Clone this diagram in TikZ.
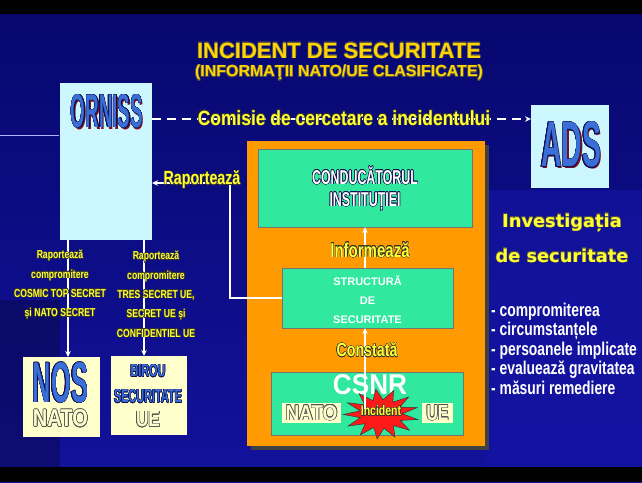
\documentclass[tikz,border=0pt]{standalone}
\usepackage{fontspec}
\setmainfont{Liberation Sans}
\newfontfamily\cond[FakeStretch=0.75]{Liberation Sans}
\newfontfamily\mcond[FakeStretch=0.85]{Liberation Sans}
\newfontfamily\xcond[FakeStretch=0.62]{Liberation Sans}
\newfontfamily\dvs{DejaVu Sans}
\usepackage{contour}
\contourlength{0.5pt}
\usetikzlibrary{shapes.geometric,arrows.meta,shadows}
\definecolor{bgtop}{HTML}{07076E}
\definecolor{bgbot}{HTML}{12129C}
\definecolor{bgright}{HTML}{1515A8}
\definecolor{cyanbox}{HTML}{CCF7FF}
\definecolor{cream}{HTML}{FFFFCC}
\definecolor{mygreen}{HTML}{30E89E}
\definecolor{myorange}{HTML}{FF9A00}
\definecolor{tityel}{HTML}{FFD400}
\definecolor{labyel}{HTML}{FFFF33}
\definecolor{blueT}{HTML}{3A6FD8}
\definecolor{navyT}{HTML}{101050}
\definecolor{shred}{HTML}{7A1020}
\definecolor{starred}{HTML}{FF1A1A}
\definecolor{outgray}{HTML}{555555}
\newcommand\fitbox[3]{\resizebox{#1}{#2}{\bfseries #3}}
\begin{document}
\begin{tikzpicture}[x=1pt,y=-1pt,
  lab/.style={text=labyel, font=\cond\bfseries\fontsize{19}{22}\selectfont, inner sep=0},
  small/.style={text=labyel, font=\cond\bfseries\fontsize{11.5}{19.3}\selectfont, align=center, inner sep=0},
  arr/.style={draw=white, line width=1.4pt, -{Stealth[length=6pt,width=5.5pt]}},
  plain/.style={inner sep=0, outer sep=0},
  gbox/.style={plain, fill=mygreen, draw=black!55, line width=0.6pt},
  whitebold/.style={text=white, font=\bfseries\fontsize{11}{19}\selectfont, align=center, inner sep=0},
  bullet/.style={text=white, font=\cond\bfseries\fontsize{18.5}{20}\selectfont, anchor=base west, inner sep=0},
  inv/.style={text=labyel, font=\dvs\bfseries\fontsize{17.8}{20}\selectfont, anchor=base, inner sep=0},
]
\useasboundingbox (0,0) rectangle (642,482);
% background
\fill[top color=bgtop, bottom color=bgbot] (0,0) rectangle (642,482);
\fill[bgright, opacity=0.6] (486,190) rectangle (642,467);
\fill[black, opacity=0.25] (0,300) rectangle (60,467);
\fill[black] (0,0) rectangle (642,14);
\fill[black] (0,467) rectangle (642,482);
\draw[white!70!blue, line width=1pt] (0,135) -- (59,135);

% title
\node[text=tityel, font=\bfseries\fontsize{22}{24}\selectfont, plain] (title) at (339,51) {\contour{black!70}{INCIDENT DE SECURITATE}};
\node[text=tityel, font=\bfseries\fontsize{16}{18}\selectfont, plain] (subtitle) at (339,73) {\contour{black!70}{(INFORMAŢII NATO/UE CLASIFICATE)}};

% ORNISS
\node[plain, fill=cyanbox, minimum width=92, minimum height=157] (orniss) at (106,161.5) {};
\node[plain, text=shred] (ornissshadow) at (108.5,113) {\fitbox{72pt}{33pt}{ORNISS}};
\node[plain, text=blueT] (ornisslbl) at (107,111.5) {\contourlength{0.4pt}\contour{navyT}{\fitbox{72pt}{33pt}{ORNISS}}};

% ADS
\node[plain, fill=cyanbox, minimum width=78, minimum height=83] (ads) at (570,146.5) {};
\node[plain, text=shred] (adsshadow) at (572.5,146.5) {\fitbox{60pt}{45pt}{ADS}};
\node[plain, text=blueT] (adslbl) at (571,145) {\contourlength{0.4pt}\contour{navyT}{\fitbox{60pt}{45pt}{ADS}}};

% dashed commission arrow
\coordinate (dashy) at (0,119);
\draw[arr, dash pattern=on 9pt off 6pt] (orniss.east |- dashy) -- (ads.west |- dashy);
\node[lab, font=\mcond\bfseries\fontsize{20.5}{22}\selectfont] (comisie) at (344,118) {\contourlength{0.4pt}\contour{black!80}{Comisie de cercetare a incidentului}};

% orange institution box
\node[plain, fill=myorange, minimum width=238, minimum height=305,
  drop shadow={shadow xshift=4pt, shadow yshift=-4pt, fill=black!75, opacity=1}] (inst) at (366,293.5) {};

% conducatorul
\node[gbox, minimum width=214, minimum height=78] (cond) at (365,188) {};
\node[plain, text=white, font=\xcond\bfseries\fontsize{20}{20}\selectfont, align=center] (condlbl) at (365,189)
  {\contourlength{0.5pt}\contour{navyT}{CONDUCĂTORUL}\\[2pt]\contourlength{0.5pt}\contour{navyT}{INSTITUȚIEI}};

% structura
\node[gbox, minimum width=171, minimum height=60] (struct) at (367.5,298) {};
\node[whitebold] (structlbl) at (367.5,299.5) {STRUCTURĂ\\DE\\SECURITATE};

% CSNR
\node[gbox, minimum width=192, minimum height=63] (csnr) at (367,403.5) {};
\node[plain, text=white] (csnrlbl) at (370,385) {\fitbox{74pt}{20pt}{CSNR}};
\node[plain, fill=cream, minimum width=59, minimum height=20] (natotag) at (311.5,413) {};
\node[plain, text=cream] (natolbl) at (311.5,413) {\contourlength{0.6pt}\contour{outgray}{\fitbox{52pt}{15pt}{NATO}}};
\node[plain, fill=cream, minimum width=31, minimum height=20] (uetag) at (437.5,413) {};
\node[plain, text=cream] (uelbl) at (437.5,413) {\contourlength{0.6pt}\contour{outgray}{\fitbox{22pt}{15pt}{UE}}};
\begin{scope}[shift={(381,414)}, xscale=1.5]
\node[star, star points=13, star point ratio=1.75, minimum size=50pt, inner sep=0, fill=starred, draw=black!80, line width=0.5pt, transform shape, rotate=8] (star) {};
\end{scope}
\node[plain, text=labyel, font=\cond\bfseries\fontsize{14}{14}\selectfont] (inclbl) at (381,411) {\contourlength{0.4pt}\contour{black!80}{Incident}};

% vertical arrows
\coordinate (incpt) at (365,409);
\draw[arr] (incpt) -- (incpt |- struct.south);
\draw[arr] (incpt |- struct.north) -- (incpt |- cond.south);
\node[lab, font=\cond\bfseries\fontsize{20}{22}\selectfont] (informeaza) at (370,250) {\contourlength{0.4pt}\contour{black!80}{Informează}};
\node[lab] (constata) at (367,350) {\contourlength{0.4pt}\contour{black!80}{Constată}};

% report to ORNISS
\coordinate (rapcorner) at (230,183);
\draw[arr] (struct.west) -| (rapcorner) -- (orniss.east |- rapcorner);
\node[lab] (raporteaza) at (202,180) {\contourlength{0.4pt}\contour{black!80}{Raportează}};

% NOS and BIROU
\node[plain, fill=cream, minimum width=77, minimum height=80] (nos) at (61.5,397) {};
\node[plain, fill=cream, minimum width=76, minimum height=79] (birou) at (149,395.5) {};
\coordinate (leftx) at (68,0);
\coordinate (rightx) at (144,0);
\draw[arr] (orniss.south -| leftx) -- (nos.north -| leftx);
\draw[arr] (orniss.south -| rightx) -- (birou.north -| rightx);
\node[small] (leftlbl) at (60,285) {\contourlength{0.3pt}\contour{black!80}{Raportează}\\\contour{black!80}{compromitere}\\\contour{black!80}{COSMIC TOP SECRET}\\\contour{black!80}{și NATO SECRET}};
\node[small] (rightlbl) at (156,294.5) {\contourlength{0.3pt}\contour{black!80}{Raportează}\\\contour{black!80}{compromitere}\\\contour{black!80}{TRES SECRET UE,}\\\contour{black!80}{SECRET UE și}\\\contour{black!80}{CONFIDENTIEL UE}};

\node[plain, text=blueT] (noslbl) at (60.5,383) {\contourlength{0.5pt}\contour{navyT}{\fitbox{55pt}{40pt}{NOS}}};
\node[plain, text=cream] (nosnato) at (60.5,418.5) {\contourlength{0.6pt}\contour{outgray}{\fitbox{55pt}{17pt}{NATO}}};
\node[plain, text=blueT] (birou1) at (148,371) {\contourlength{0.4pt}\contour{navyT}{\fitbox{35pt}{12pt}{BIROU}}};
\node[plain, text=blueT] (birou2) at (148,396.5) {\contourlength{0.4pt}\contour{navyT}{\fitbox{68pt}{13pt}{SECURITATE}}};
\node[plain, text=cream] (birou3) at (148,419.5) {\contourlength{0.6pt}\contour{outgray}{\fitbox{24pt}{15pt}{UE}}};

% investigation
\node[inv] (inv1) at (562,227) {\contourlength{0.4pt}\contour{black!70}{Investigația}};
\node[inv] (inv2) at (562,262) {\contourlength{0.4pt}\contour{black!70}{de securitate}};
\node[bullet] (b1) at (491,316) {- compromiterea};
\node[bullet] (b2) at (491,335.5) {- circumstanțele};
\node[bullet] (b3) at (491,355) {- persoanele implicate};
\node[bullet] (b4) at (491,374.5) {- evaluează gravitatea};
\node[bullet] (b5) at (491,394) {- măsuri remediere};
\end{tikzpicture}
\end{document}
